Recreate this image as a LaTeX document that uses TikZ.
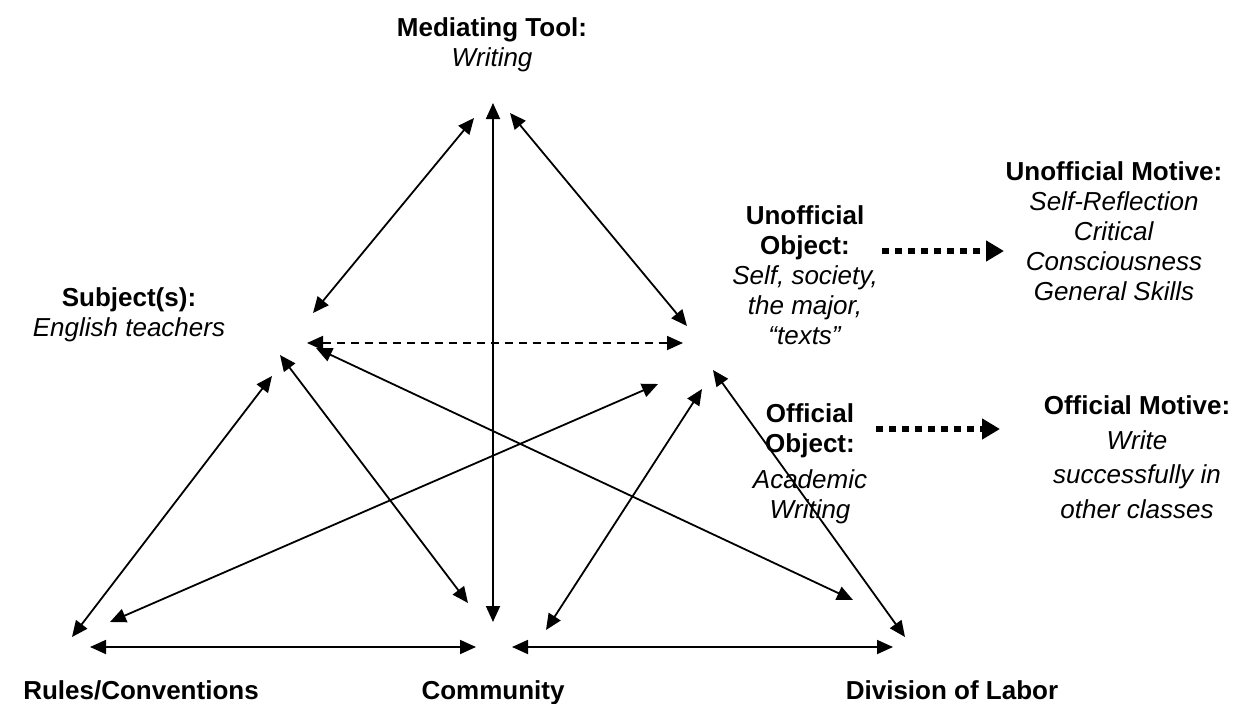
\documentclass[tikz,border=0pt]{standalone}
\usepackage{fontspec}
\setmainfont{Liberation Sans}
\usetikzlibrary{arrows.meta}
\tikzset{
  dbl/.style={line width=1.8pt, {Triangle[length=16pt,width=14pt]}-{Triangle[length=16pt,width=14pt]}},
  dasharrow/.style={dbl, dash pattern=on 8pt off 6pt},
  dotarrow/.style={line width=6pt, dash pattern=on 7pt off 6pt, -{Triangle[length=18pt,width=20pt]}},
  lbl/.style={align=center, inner sep=0pt, font=\fontsize{26}{30}\selectfont},
  bold/.style={inner sep=0pt, anchor=base, font=\bfseries\fontsize{26}{30}\selectfont}
}
\begin{document}
\begin{tikzpicture}[x=1pt,y=-1pt]
\useasboundingbox (0,0) rectangle (1251,704);
% labels
\node[lbl] (tool) at (492,45) {\textbf{Mediating Tool:}\\\textit{Writing}};
\node[lbl] (subj) at (129,315) {\textbf{Subject(s):}\\\textit{English teachers}};
\node[lbl] (uobj) at (805,275) {\textbf{Unofficial}\\\textbf{Object:}\\\textit{Self, society,}\\\textit{the major,}\\\textit{``texts''}};
\node[lbl] (umot) at (1114,231) {\textbf{Unofficial Motive:}\\\textit{Self-Reflection}\\\textit{Critical}\\\textit{Consciousness}\\\textit{General Skills}};
\node[lbl] (oobj) at (810,464) {\textbf{Official}\\\textbf{Object:}\\[6pt]\textit{Academic}\\\textit{Writing}};
\node[lbl, font=\fontsize{26}{34.5}\selectfont] (omot) at (1137,457) {\textbf{Official Motive:}\\\textit{Write}\\\textit{successfully in}\\\textit{other classes}};
\node[bold] (rules) at (141,699) {Rules/Conventions};
\node[bold] (comm) at (493,699) {Community};
\node[bold] (div) at (952,699) {Division of Labor};
% endpoints
\coordinate (vT) at (493,103); \coordinate (vB) at (493,622);
\coordinate (bT) at (474,118); \coordinate (bB) at (313,313);
\coordinate (cT) at (510,113); \coordinate (cB) at (687,326);
\coordinate (dL) at (307,343); \coordinate (dR) at (683,343);
\coordinate (eT) at (272,376); \coordinate (eB) at (72,637);
\coordinate (fT) at (658,384); \coordinate (fB) at (110,622);
\coordinate (gT) at (280,355); \coordinate (gB) at (468,603);
\coordinate (hT) at (316,348); \coordinate (hB) at (853,600);
\coordinate (iT) at (702,389); \coordinate (iB) at (546,630);
\coordinate (jT) at (713,370); \coordinate (jB) at (905,637);
\coordinate (kL) at (90,647); \coordinate (kR) at (476,647);
\coordinate (lL) at (512,647); \coordinate (lR) at (893,647);
\coordinate (m1L) at (882,251); \coordinate (m1R) at (1004,251);
\coordinate (m2L) at (876,429); \coordinate (m2R) at (1000,429);
% connectors
\draw[dbl] (vT) -- (vB);
\draw[dbl] (bT) -- (bB);
\draw[dbl] (cT) -- (cB);
\draw[dasharrow] (dL) -- (dR);
\draw[dbl] (eT) -- (eB);
\draw[dbl] (fT) -- (fB);
\draw[dbl] (gT) -- (gB);
\draw[dbl] (hT) -- (hB);
\draw[dbl] (iT) -- (iB);
\draw[dbl] (jT) -- (jB);
\draw[dbl] (kL) -- (kR);
\draw[dbl] (lL) -- (lR);
\draw[dotarrow] (m1L) -- (m1R);
\draw[dotarrow] (m2L) -- (m2R);
\end{tikzpicture}
\end{document}
